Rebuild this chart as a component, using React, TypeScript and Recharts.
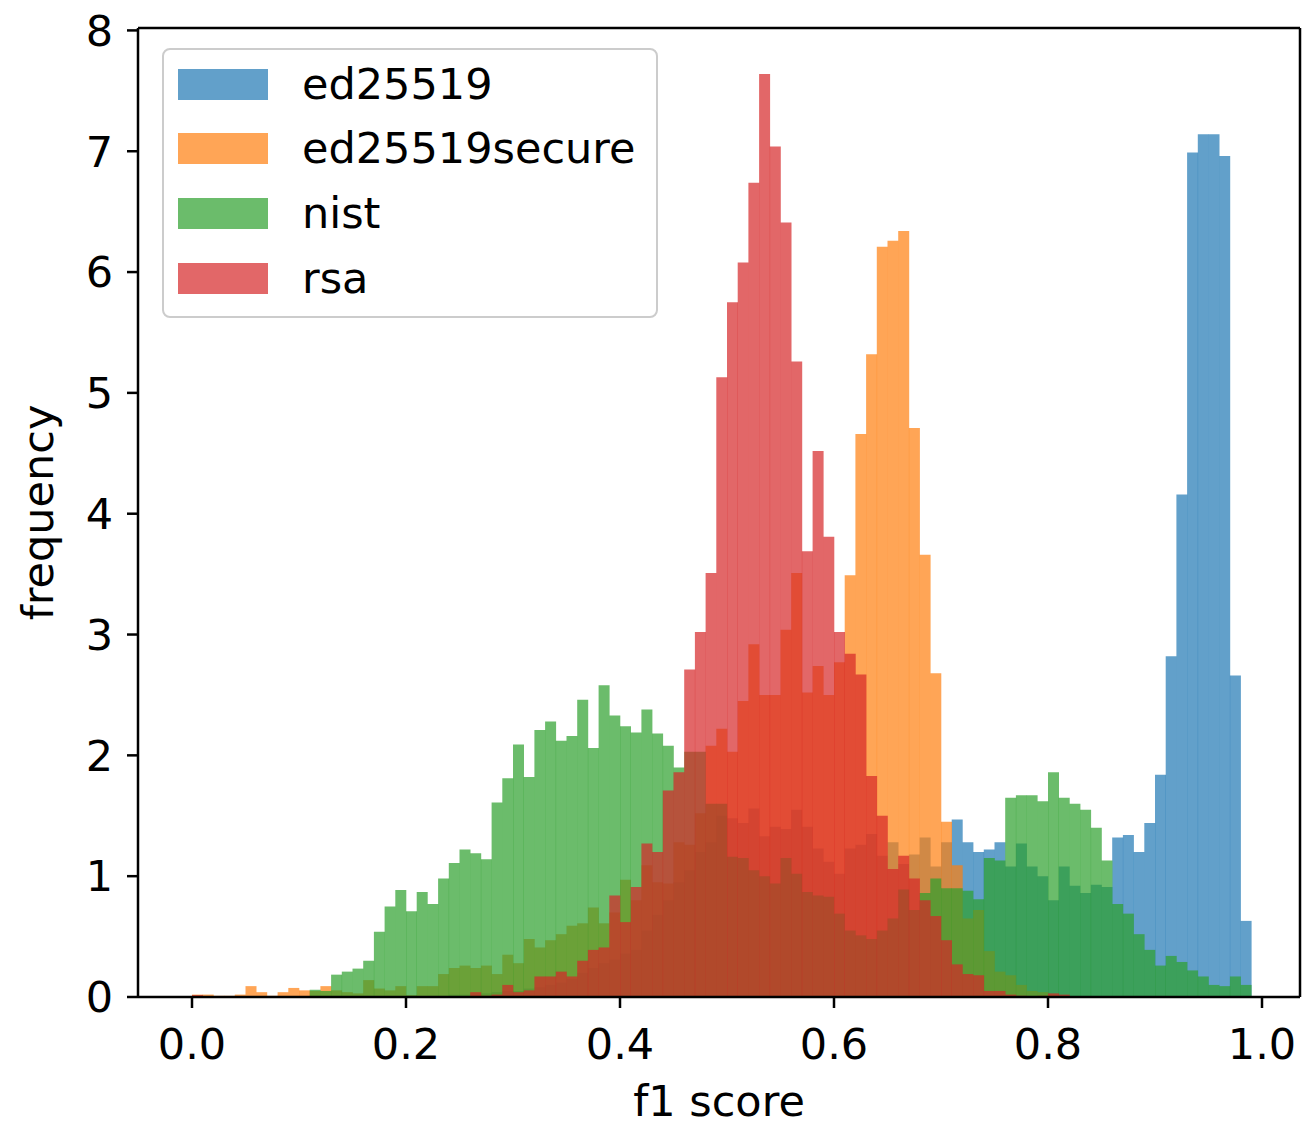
import { BarChart, Bar, XAxis, YAxis, Legend } from 'recharts'

// histogram heights per 0.01 bin (bin i covers i/100 .. (i+1)/100)
const ed25519 = [
  0, 0, 0, 0, 0, 0, 0, 0, 0, 0,
  0, 0, 0, 0, 0, 0, 0, 0, 0, 0,
  0.01, 0, 0.01, 0.01, 0.02, 0.02, 0.03, 0.03, 0.04, 0.05,
  0.05, 0.07, 0.08, 0.1, 0.12, 0.15, 0.2, 0.24, 0.28, 0.31,
  0.36, 0.39, 0.55, 0.68, 0.8, 0.95, 1.05, 1.2, 1.28, 1.5,
  1.48, 1.44, 1.56, 1.33, 1.41, 1.39, 1.55, 1.41, 1.23, 1.12,
  1.02, 1.23, 1.26, 1.35, 1.17, 1.28, 1.1, 1.18, 1.32, 1.08,
  1.28, 1.47, 1.28, 1.2, 1.22, 1.28, 1.08, 1.27, 1.08, 1.0,
  0.8, 1.08, 0.92, 0.86, 0.93, 0.91, 1.32, 1.34, 1.2, 1.44,
  1.84, 2.82, 4.16, 6.99, 7.14, 7.14, 6.96, 2.66, 0.63,
]

const ed25519secure = [
  0.02, 0.02, 0.01, 0.01, 0.02, 0.09, 0.04, 0.01, 0.04, 0.075,
  0.055, 0.05, 0.09, 0.055, 0.04, 0.03, 0.14, 0.07, 0.055, 0.09,
  0.015, 0.09, 0.09, 0.19, 0.24, 0.26, 0.24, 0.26, 0.19, 0.35,
  0.28, 0.48, 0.41, 0.47, 0.52, 0.59, 0.61, 0.74, 0.61, 0.7,
  0.97, 0.8, 1.09, 0.95, 0.94, 1.28, 1.26, 1.52, 2.08, 2.22,
  2.03, 2.45, 2.92, 2.5, 2.5, 3.04, 3.51, 2.52, 2.74, 2.5,
  2.77, 3.49, 4.66, 5.32, 6.21, 6.26, 6.34, 4.71, 3.66, 2.68,
  1.45, 1.09, 0.65, 0.72, 0.38, 0.21, 0.18, 0.1, 0.05, 0.04,
  0.02, 0.01, 0, 0, 0, 0, 0, 0, 0, 0,
  0, 0, 0, 0, 0, 0, 0, 0, 0,
]

const nist = [
  0, 0, 0, 0, 0, 0, 0, 0, 0, 0,
  0, 0.06, 0.05, 0.185, 0.21, 0.235, 0.3, 0.54, 0.75, 0.885,
  0.71, 0.87, 0.77, 0.98, 1.11, 1.22, 1.19, 1.14, 1.61, 1.81,
  2.09, 1.82, 2.21, 2.28, 2.12, 2.16, 2.46, 2.06, 2.58, 2.33,
  2.24, 2.19, 2.38, 2.18, 2.08, 1.9, 2.03, 2.03, 1.6, 1.6,
  1.16, 1.15, 1.05, 1.0, 0.94, 1.15, 1.02, 0.87, 0.84, 0.83,
  0.69, 0.55, 0.51, 0.48, 0.55, 0.65, 0.89, 0.72, 0.86, 0.98,
  0.9, 0.9, 0.88, 0.81, 1.15, 1.13, 1.65, 1.67, 1.67, 1.62,
  1.86, 1.65, 1.6, 1.55, 1.4, 1.13, 0.77, 0.69, 0.52, 0.39,
  0.26, 0.34, 0.29, 0.22, 0.17, 0.1, 0.09, 0.17, 0.1,
]

const rsa = [
  0.015, 0, 0, 0, 0, 0, 0, 0, 0, 0,
  0, 0, 0, 0, 0, 0, 0, 0, 0, 0,
  0, 0, 0, 0, 0, 0, 0.04, 0.01, 0.02, 0.1,
  0.04, 0.055, 0.17, 0.17, 0.21, 0.17, 0.3, 0.39, 0.41, 0.84,
  0.62, 0.91, 1.27, 1.2, 1.71, 1.86, 2.71, 3.02, 3.51, 5.13,
  5.75, 6.08, 6.74, 7.64, 7.04, 6.41, 5.26, 3.69, 4.52, 3.81,
  3.02, 2.84, 2.67, 1.83, 1.5, 1.06, 1.17, 0.98, 0.8, 0.67,
  0.47, 0.27, 0.19, 0.18, 0.05, 0.05, 0.02, 0.01, 0, 0.01,
  0.03, 0.02, 0, 0, 0, 0, 0, 0, 0, 0,
  0, 0, 0, 0, 0, 0, 0, 0, 0,
]

const xTicks = [0, 0.2, 0.4, 0.6, 0.8, 1.0]
const yTicks = [0, 1, 2, 3, 4, 5, 6, 7, 8]

const SERIES = [
  { key: 'ed25519', name: 'ed25519', color: '#1f77b4', values: ed25519 },
  { key: 'ed25519secure', name: 'ed25519secure', color: '#ff7f0e', values: ed25519secure },
  { key: 'nist', name: 'nist', color: '#2ca02c', values: nist },
  { key: 'rsa', name: 'rsa', color: '#d62728', values: rsa },
]

// one row per bin: category label, numeric bin centre for the tick axis, and the four heights
const data = ed25519.map((_, i) => {
  const row: Record<string, number | string> = { bin: (i / 100).toFixed(2), x: i / 100 + 0.005 }
  SERIES.forEach(s => { row[s.key] = s.values[i] })
  return row
})

const W = 1303
const H = 1123
const FONT = 'DejaVu Sans'
const FS = 43
const LINE = { stroke: '#000', strokeWidth: 2.5 }
// plot spans x 138..1300; value 0 sits at 192, value 1 at 1262
const tickPad = { left: 54, right: 38 }
const binPad = { left: 54, right: 48.7 }

function LegendBox() {
  return (
    <div style={{
      width: 496, height: 270, boxSizing: 'border-box',
      border: '2px solid #cccccc', borderRadius: 8,
      background: 'rgba(255,255,255,0.8)', paddingTop: 2,
      fontFamily: FONT, fontSize: FS, color: '#000',
    }}>
      {SERIES.map(s => (
        <div key={s.key} style={{ display: 'flex', alignItems: 'center', height: 64.6 }}>
          <div style={{ width: 90, height: 31, marginLeft: 14, marginRight: 34, background: s.color, opacity: 0.7 }} />
          <span style={{ lineHeight: 1 }}>{s.name}</span>
        </div>
      ))}
    </div>
  )
}

export default function App() {
  return (
    <div style={{ position: 'absolute', left: 0, top: 0, width: W, height: H, background: '#fff' }}>
      <BarChart
        width={W}
        height={H}
        data={data}
        margin={{ top: 27, right: 2, bottom: 0, left: 0 }}
        barCategoryGap={0}
        barGap={0}
      >
        <XAxis
          xAxisId="ticks"
          dataKey="x"
          type="number"
          domain={[0, 1]}
          allowDataOverflow
          ticks={xTicks}
          tickFormatter={(v: number) => v.toFixed(1)}
          padding={tickPad}
          height={126}
          axisLine={LINE}
          tickLine={LINE}
          tickSize={11}
          tickMargin={20}
          tick={{ fill: '#000', fontSize: FS, fontFamily: FONT }}
          label={{ value: 'f1 score', position: 'center', dy: 41, fill: '#000', fontSize: FS, fontFamily: FONT }}
        />
        {SERIES.map(s => (
          <XAxis key={s.key} xAxisId={s.key} dataKey="bin" type="category" hide height={0} padding={binPad} />
        ))}
        <XAxis
          xAxisId="top"
          orientation="top"
          dataKey="x"
          type="number"
          domain={[0, 1]}
          allowDataOverflow
          height={1}
          tick={false}
          tickLine={false}
          axisLine={LINE}
        />
        <YAxis
          type="number"
          domain={[0, 8.02]}
          allowDataOverflow
          ticks={yTicks}
          width={138}
          axisLine={LINE}
          tickLine={LINE}
          tickSize={11}
          tickMargin={14}
          tick={{ fill: '#000', fontSize: FS, fontFamily: FONT }}
          label={{ value: 'frequency', angle: -90, position: 'center', dx: -31, fill: '#000', fontSize: FS, fontFamily: FONT }}
        />
        <YAxis
          yAxisId="right"
          orientation="right"
          type="number"
          domain={[0, 1]}
          allowDataOverflow
          width={1}
          tick={false}
          tickLine={false}
          axisLine={LINE}
        />
        <Legend
          layout="vertical"
          align="center"
          verticalAlign="middle"
          wrapperStyle={{ left: 162, top: 48, width: 496 }}
          content={() => <LegendBox />}
        />
        {SERIES.map(s => (
          <Bar
            key={s.key}
            xAxisId={s.key}
            dataKey={s.key}
            name={s.name}
            fill={s.color}
            fillOpacity={0.7}
            isAnimationActive={false}
          />
        ))}
      </BarChart>
    </div>
  )
}
